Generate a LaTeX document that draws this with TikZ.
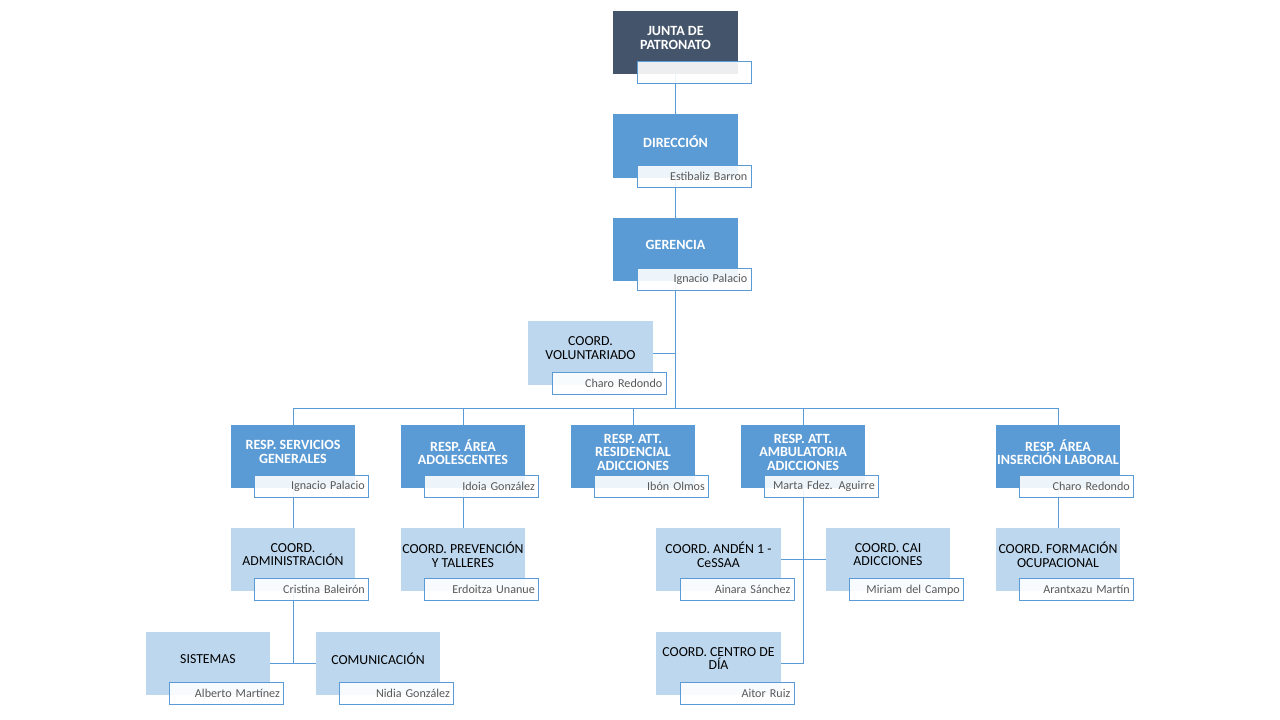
\documentclass[tikz,border=0pt]{standalone}
\usepackage{fontspec}
\setmainfont{Carlito}
\usetikzlibrary{positioning,backgrounds}
\definecolor{darkslate}{HTML}{44546A}
\definecolor{midblue}{HTML}{5B9BD5}
\definecolor{paleblue}{HTML}{BDD7EE}
\definecolor{namegray}{HTML}{595959}

\begin{document}
\begin{tikzpicture}[x=0.025cm,y=-0.025cm,
    box/.style={minimum width=3.1cm,minimum height=1.575cm,inner sep=0pt},
    headtext/.style={align=center,yshift=0.11cm,text=white,
      font=\fontsize{10}{9.7}\selectfont\bfseries},
    coordtext/.style={align=center,yshift=0.12cm,
      font=\fontsize{9.8}{9.7}\selectfont},
    topbox/.style={box,fill=darkslate,label={[headtext]center:#1}},
    respbox/.style={box,fill=midblue,label={[headtext]center:#1}},
    coordbox/.style={box,fill=paleblue,label={[coordtext]center:#1}},
    namebox/.style={anchor=north east,draw=midblue,line width=0.7pt,
      fill=white,fill opacity=0.9,text opacity=1,text=namegray,
      minimum height=0.55cm,text width=2.65cm,align=right,
      inner xsep=0.1cm,inner ysep=0pt,font=\fontsize{8.6}{9}\selectfont},
    link/.style={draw=midblue,line width=0.7pt}]
    \useasboundingbox (0,0) rectangle (1280,720);

    % top of the chart
    \node[topbox={JUNTA DE\\PATRONATO}] (junta) at (675.5,42.5) {};
    \node[namebox] (juntaN) at ([xshift=0.35cm,yshift=0.325cm]junta.south east) {};
    \node[respbox={DIRECCIÓN}] (dir) at (675.5,146) {};
    \node[namebox] (dirN) at ([xshift=0.35cm,yshift=0.325cm]dir.south east) {Estibaliz Barron};
    \node[respbox={GERENCIA}] (ger) at (675.5,249.5) {};
    \node[namebox] (gerN) at ([xshift=0.35cm,yshift=0.325cm]ger.south east) {Ignacio Palacio};
    \node[coordbox={COORD.\\VOLUNTARIADO}] (vol) at (590.5,353) {};
    \node[namebox] (volN) at ([xshift=0.35cm,yshift=0.325cm]vol.south east) {Charo Redondo};
    \coordinate (bus) at (675.5,408);

    % area heads
    \node[respbox={RESP. SERVICIOS\\GENERALES}] (sg) at (293,456.5) {};
    \node[namebox] (sgN) at ([xshift=0.35cm,yshift=0.325cm]sg.south east) {Ignacio Palacio};
    \node[respbox={RESP. ÁREA\\ADOLESCENTES}] (ado) at (463,456.5) {};
    \node[namebox] (adoN) at ([xshift=0.35cm,yshift=0.325cm]ado.south east) {Idoia González};
    \node[respbox={RESP. ATT.\\RESIDENCIAL\\ADICCIONES}] (res) at (633,456.5) {};
    \node[namebox] (resN) at ([xshift=0.35cm,yshift=0.325cm]res.south east) {Ibón Olmos};
    \node[respbox={RESP. ATT.\\AMBULATORIA\\ADICCIONES}] (amb) at (803,456.5) {};
    \node[namebox] (ambN) at ([xshift=0.35cm,yshift=0.325cm]amb.south east) {Marta Fdez. Aguirre};
    \node[respbox={RESP. ÁREA\\INSERCIÓN LABORAL}] (ins) at (1058,456.5) {};
    \node[namebox] (insN) at ([xshift=0.35cm,yshift=0.325cm]ins.south east) {Charo Redondo};

    % coordinators
    \node[coordbox={COORD.\\ADMINISTRACIÓN}] (adm) at (293,559.5) {};
    \node[namebox] (admN) at ([xshift=0.35cm,yshift=0.325cm]adm.south east) {Cristina Baleirón};
    \node[coordbox={COORD. PREVENCIÓN\\Y TALLERES}] (pre) at (463,559.5) {};
    \node[namebox] (preN) at ([xshift=0.35cm,yshift=0.325cm]pre.south east) {Erdoitza Unanue};
    \node[coordbox={COORD. ANDÉN 1 -\\CeSSAA}] (anden) at (718.5,559.5) {};
    \node[namebox] (andenN) at ([xshift=0.35cm,yshift=0.325cm]anden.south east) {Ainara Sánchez};
    \node[coordbox={COORD. CAI\\ADICCIONES}] (cai) at (888,559.5) {};
    \node[namebox] (caiN) at ([xshift=0.35cm,yshift=0.325cm]cai.south east) {Miriam del Campo};
    \node[coordbox={COORD. CENTRO DE\\DÍA}] (cdd) at (718.5,663.5) {};
    \node[namebox] (cddN) at ([xshift=0.35cm,yshift=0.325cm]cdd.south east) {Aitor Ruiz};
    \node[coordbox={COORD. FORMACIÓN\\OCUPACIONAL}] (form) at (1058,559.5) {};
    \node[namebox] (formN) at ([xshift=0.35cm,yshift=0.325cm]form.south east) {Arantxazu Martín};
    \node[coordbox={SISTEMAS}] (sis) at (208,663.5) {};
    \node[namebox] (sisN) at ([xshift=0.35cm,yshift=0.325cm]sis.south east) {Alberto Martínez};
    \node[coordbox={COMUNICACIÓN}] (com) at (378,663.5) {};
    \node[namebox] (comN) at ([xshift=0.35cm,yshift=0.325cm]com.south east) {Nidia González};

    % connectors behind the boxes
    \begin{scope}[on background layer]
        \fill[white] (0,0) rectangle (1280,720);
        \draw[link] (junta) -- (dir);
        \draw[link] (dir) -- (ger);
        \draw[link,line width=1.3pt] (ger) -- (bus);
        \draw[link] (vol.east) -- (vol.east -| bus);
        \foreach \n in {sg,ado,res,amb,ins}
            \draw[link] (bus) -| (\n.north);
        \draw[link] (sg) -- (adm);
        \draw[link] (adm) -- (adm |- sis);
        \draw[link] (sis.east) -- (com.west);
        \draw[link] (ado) -- (pre);
        \draw[link] (ins) -- (form);
        \draw[link] (amb) |- (cdd.east);
        \draw[link] (anden.east) -- (cai.west);
    \end{scope}
\end{tikzpicture}
\end{document}
